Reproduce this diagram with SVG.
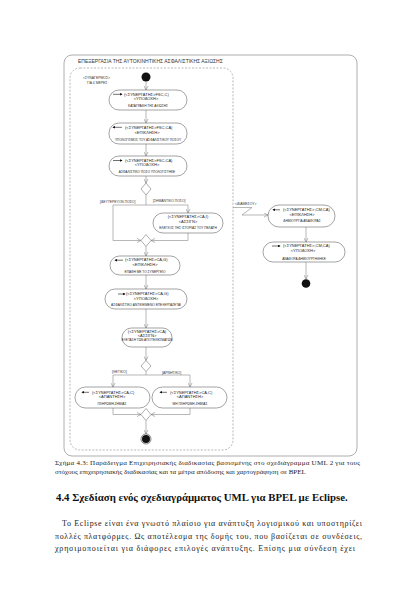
<svg xmlns="http://www.w3.org/2000/svg" width="420" height="594" viewBox="0 0 420 594">
<defs>
<marker id="arr" viewBox="0 0 10 10" refX="9" refY="5" markerWidth="5" markerHeight="5" orient="auto" markerUnits="userSpaceOnUse">
<path d="M1,1 L9,5 L1,9" fill="none" stroke="#888" stroke-width="1.2"/>
</marker>
<marker id="ico" viewBox="0 0 10 10" refX="8" refY="5" markerWidth="3" markerHeight="3" orient="auto" markerUnits="userSpaceOnUse">
<path d="M0,0 L10,5 L0,10 Z" fill="#111"/>
</marker>
</defs>
<style>
.frame{fill:none;stroke:#9a9a9a;stroke-width:0.8}
.lane{fill:none;stroke:#9a9a9a;stroke-width:0.7;stroke-dasharray:2,1.5}
.node{fill:#fff;stroke:#666;stroke-width:0.6}
.dia{fill:#fff;stroke:#777;stroke-width:0.6}
.edge{fill:none;stroke:#999;stroke-width:0.7}
.ic{fill:none;stroke:#111;stroke-width:0.6}
.t1{font-family:"Liberation Sans",Arial,sans-serif;font-size:4px;fill:#222}
.t2{font-family:"Liberation Sans",Arial,sans-serif;font-size:3.2px;fill:#222}
.lbl{font-family:"Liberation Sans",Arial,sans-serif;font-size:3.4px;fill:#333}
.title{font-family:"Liberation Sans",Arial,sans-serif;font-size:5px;fill:#333}
.cap{font-family:"Liberation Serif","Times New Roman",serif;font-size:7px;fill:#222}
.h{font-family:"Liberation Serif","Times New Roman",serif;font-size:10.8px;font-weight:bold;fill:#111}
.body{font-family:"Liberation Serif","Times New Roman",serif;font-size:8px;fill:#222}
</style>
<rect width="420" height="594" fill="#fff"/>
<g id="frame">
<rect class="frame" x="64" y="55" width="293" height="401" rx="8"/>
<text class="title" x="78" y="63">ΕΠΕΞΕΡΓΑΣΙΑ ΤΗΣ ΑΥΤΟΚΙΝΗΤΙΚΗΣ ΑΣΦΑΛΙΣΤΙΚΗΣ ΑΞΙΩΣΗΣ</text>
<rect class="lane" x="70" y="68" width="163" height="382" rx="10"/>
<text class="lbl" x="83" y="79">&lt;ΣΥΝΑΓΕΡΜΟΣ&gt;</text>
<text class="lbl" x="87" y="84">ΓΙΑ 4 ΜΕΡΕΣ</text>
</g>
<g id="connectors">
<line class="edge" x1="146" y1="81.5" x2="146" y2="90" marker-end="url(#arr)"/>
<line class="edge" x1="146" y1="110" x2="146" y2="123" marker-end="url(#arr)"/>
<line class="edge" x1="146" y1="144" x2="146" y2="156" marker-end="url(#arr)"/>
<line class="edge" x1="146" y1="176" x2="146" y2="183" marker-end="url(#arr)"/>
<polyline class="edge" points="146,195 146,205"/>
<polyline class="edge" points="113,205 188,205"/>
<polyline class="edge" points="113,205 113,240.5 141,240.5" marker-end="url(#arr)"/>
<line class="edge" x1="188" y1="205" x2="188" y2="213" marker-end="url(#arr)"/>
<polyline class="edge" points="188,233 188,240.5 151,240.5" marker-end="url(#arr)"/>
<line class="edge" x1="146" y1="246.5" x2="146" y2="256" marker-end="url(#arr)"/>
<line class="edge" x1="146" y1="275" x2="146" y2="289" marker-end="url(#arr)"/>
<line class="edge" x1="146" y1="309" x2="146" y2="328" marker-end="url(#arr)"/>
<line class="edge" x1="146" y1="347" x2="146" y2="360.5" marker-end="url(#arr)"/>
<polyline class="edge" points="146,371.5 146,375"/>
<polyline class="edge" points="113,375 190,375"/>
<line class="edge" x1="113" y1="375" x2="113" y2="387" marker-end="url(#arr)"/>
<line class="edge" x1="190" y1="375" x2="190" y2="387" marker-end="url(#arr)"/>
<polyline class="edge" points="113,408 113,414.5 141,414.5" marker-end="url(#arr)"/>
<polyline class="edge" points="190,408 190,414.5 151,414.5" marker-end="url(#arr)"/>
<line class="edge" x1="146" y1="420.5" x2="146" y2="434" marker-end="url(#arr)"/>
<polyline class="edge" points="233,207.5 252,207.5 242,215 268,215" marker-end="url(#arr)"/>
<line class="edge" x1="306" y1="227" x2="306" y2="242" marker-end="url(#arr)"/>
<line class="edge" x1="306" y1="262" x2="306" y2="279" marker-end="url(#arr)"/>
<text class="lbl" x="100" y="203">[ΔΕΥΤΕΡΕΥΟΝ ΠΟΣΟ]</text>
<text class="lbl" x="153" y="202">[ΣΗΜΑΝΤΙΚΟ ΠΟΣΟ]</text>
<text class="lbl" x="112" y="373">[ΘΕΤΙΚΟ]</text>
<text class="lbl" x="162" y="373.5">[ΑΡΝΗΤΙΚΟ]</text>
<text class="lbl" x="235" y="204.5">&lt;ΔΙΑΜΕΣΟΥ&gt;</text>
</g>
<g id="start"><circle cx="146" cy="77" r="4.5" fill="#111"/></g>
<g id="n1">
<rect class="node" x="109" y="90" width="78" height="20" rx="10"/>
<line class="ic" x1="113" y1="94.3" x2="122" y2="94.3" marker-end="url(#ico)"/>
<text class="t1" x="124" y="95.5">(&lt;ΣΥΝΕΡΓΑΤΗΣ&gt;FSC,C)</text>
<text class="t1" x="146" y="99.7" text-anchor="middle">&lt;ΥΠΟΔΟΧΗ&gt;</text>
<text class="t2" x="148" y="107" text-anchor="middle">ΚΑΤΑΓΡΑΦΗ ΤΗΣ ΑΞΙΩΣΗΣ</text>
</g>
<g id="n2">
<rect class="node" x="109" y="123" width="78" height="21" rx="10"/>
<line class="ic" x1="122" y1="127.3" x2="113" y2="127.3" marker-end="url(#ico)"/>
<text class="t1" x="125" y="128.5">(&lt;ΣΥΝΕΡΓΑΤΗΣ&gt;FSC,CA)</text>
<text class="t1" x="147" y="133.5" text-anchor="middle">&lt;ΕΠΙΚΛΗΣΗ&gt;</text>
<text class="t2" x="148" y="141" text-anchor="middle">ΥΠΟΛΟΓΙΣΜΟΣ ΤΟΥ ΑΣΦΑΛΙΣΤΙΚΟΥ ΠΟΣΟΥ</text>
</g>
<g id="n3">
<rect class="node" x="109" y="156" width="78" height="20" rx="10"/>
<line class="ic" x1="113" y1="160.5" x2="122" y2="160.5" marker-end="url(#ico)"/>
<text class="t1" x="125" y="161.7">(&lt;ΣΥΝΕΡΓΑΤΗΣ&gt;FSC,CA)</text>
<text class="t1" x="147" y="166" text-anchor="middle">&lt;ΥΠΟΔΟΧΗ&gt;</text>
<text class="t2" x="147" y="173" text-anchor="middle">ΑΣΦΑΛΙΣΤΙΚΟ ΠΟΣΟ ΥΠΟΛΟΓΙΣΤΗΚΕ</text>
</g>
<g id="d1"><polygon class="dia" points="146,183 151,189 146,195 141,189"/></g>
<g id="n4">
<rect class="node" x="153" y="213" width="70" height="20" rx="10"/>
<text class="t1" x="188" y="218" text-anchor="middle">(&lt;ΣΥΝΕΡΓΑΤΗΣ&gt;CA,I)</text>
<text class="t1" x="188" y="222.5" text-anchor="middle">&lt;ΑΣΣΙΓΝ&gt;</text>
<text class="t2" x="188" y="228.5" text-anchor="middle">ΕΛΕΓΧΟΣ ΤΗΣ ΙΣΤΟΡΙΑΣ ΤΟΥ ΠΕΛΑΤΗ</text>
</g>
<g id="d2"><polygon class="dia" points="146,234.5 151,240.5 146,246.5 141,240.5"/></g>
<g id="n5">
<rect class="node" x="110" y="256" width="70" height="19" rx="9.5"/>
<line class="ic" x1="123" y1="260.2" x2="115" y2="260.2" marker-end="url(#ico)"/>
<text class="t1" x="125" y="261.4">(&lt;ΣΥΝΕΡΓΑΤΗΣ&gt;CA,G)</text>
<text class="t1" x="145" y="265.5" text-anchor="middle">&lt;ΕΠΙΚΛΗΣΗ&gt;</text>
<text class="t2" x="145" y="272.5" text-anchor="middle">ΕΠΑΦΗ ΜΕ ΤΟ ΣΥΝΕΡΓΕΙΟ</text>
</g>
<g id="n6">
<rect class="node" x="105" y="289" width="82" height="20" rx="10"/>
<line class="ic" x1="118" y1="294" x2="125" y2="294" marker-end="url(#ico)"/>
<text class="t1" x="126" y="295.2">(&lt;ΣΥΝΕΡΓΑΤΗΣ&gt;CA,G)</text>
<text class="t1" x="146" y="299.5" text-anchor="middle">&lt;ΥΠΟΔΟΧΗ&gt;</text>
<text class="t2" x="146" y="306" text-anchor="middle">ΑΣΦΑΛΙΣΤΙΚΟ ΑΝΤΙΚΕΙΜΕΝΟ ΕΠΕΞΕΡΓΑΖΕΤΑΙ</text>
</g>
<g id="n7">
<rect class="node" x="122" y="328" width="50" height="19" rx="9.5"/>
<text class="t1" x="147" y="332.5" text-anchor="middle">(&lt;ΣΥΝΕΡΓΑΤΗΣ&gt;CA)</text>
<text class="t1" x="147" y="336.5" text-anchor="middle">&lt;ΑΣΣΙΓΝ&gt;</text>
<text class="t2" x="147" y="341" text-anchor="middle">ΕΞΕΤΑΣΗ ΤΩΝ ΑΠΟΤΕΛΕΣΜΑΤΩΝ</text>
</g>
<g id="d3"><polygon class="dia" points="146,360.5 151,366 146,371.5 141,366"/></g>
<g id="n8">
<rect class="node" x="75" y="387" width="75" height="21" rx="10.5"/>
<line class="ic" x1="89" y1="392.3" x2="82" y2="392.3" marker-end="url(#ico)"/>
<text class="t1" x="92" y="393.5">(&lt;ΣΥΝΕΡΓΑΤΗΣ&gt;CA,C)</text>
<text class="t1" x="112" y="397.8" text-anchor="middle">&lt;ΑΠΑΝΤΗΣΗ&gt;</text>
<text class="t2" x="112" y="404.5" text-anchor="middle">ΠΛΗΡΩΜΗ ΖΗΜΙΑΣ</text>
</g>
<g id="n9">
<rect class="node" x="152" y="387" width="75" height="21" rx="10.5"/>
<line class="ic" x1="167" y1="392.3" x2="160" y2="392.3" marker-end="url(#ico)"/>
<text class="t1" x="170" y="393.5">(&lt;ΣΥΝΕΡΓΑΤΗΣ&gt;CA,C)</text>
<text class="t1" x="190" y="397.8" text-anchor="middle">&lt;ΑΠΑΝΤΗΣΗ&gt;</text>
<text class="t2" x="190" y="404.5" text-anchor="middle">ΜΗ ΠΛΗΡΩΜΗ ΖΗΜΙΑΣ</text>
</g>
<g id="d4"><polygon class="dia" points="146,408.5 151,414.5 146,420.5 141,414.5"/></g>
<g id="end1">
<circle cx="146" cy="439" r="5" fill="#fff" stroke="#333" stroke-width="0.6"/>
<circle cx="146" cy="439" r="4" fill="#111"/>
</g>
<g id="n10">
<rect class="node" x="268" y="205" width="67" height="22" rx="11"/>
<line class="ic" x1="280" y1="209.8" x2="273" y2="209.8" marker-end="url(#ico)"/>
<text class="t1" x="283" y="211">(&lt;ΣΥΝΕΡΓΑΤΗΣ&gt;,CM,CA)</text>
<text class="t1" x="302" y="215.5" text-anchor="middle">&lt;ΕΠΙΚΛΗΣΗ&gt;</text>
<text class="t2" x="302" y="222" text-anchor="middle">ΔΗΜΙΟΥΡΓΙΑ ΑΝΑΦΟΡΑΣ</text>
</g>
<g id="n11">
<rect class="node" x="263" y="242" width="82" height="20" rx="10"/>
<line class="ic" x1="272" y1="246" x2="280" y2="246" marker-end="url(#ico)"/>
<text class="t1" x="283" y="247.2">(&lt;ΣΥΝΕΡΓΑΤΗΣ&gt;,CM,CA)</text>
<text class="t1" x="303" y="252" text-anchor="middle">&lt;ΥΠΟΔΟΧΗ&gt;</text>
<text class="t2" x="304" y="259.5" text-anchor="middle">ΑΝΑΦΟΡΑ ΔΗΜΙΟΥΡΓΗΘΗΚΕ</text>
</g>
<g id="end2"><circle cx="306" cy="283.5" r="4.3" fill="#111"/></g>
<g id="page-text">
<text class="cap" x="55" y="465" textLength="305" lengthAdjust="spacing">Σχήμα 4.3: Παράδειγμα Επιχειρησιακής διαδικασίας βασισμένης στο σχεδιάγραμμα UML 2 για τους</text>
<text class="cap" x="55" y="473.5">στόχους επιχειρησιακής διαδικασίας και τα μέτρα απόδοσης και χαρτογράφηση σε BPEL</text>
<text class="h" x="56" y="501">4.4 Σχεδίαση  ενός σχεδιαγράμματος UML για BPEL με Eclipse.</text>
<text class="body" x="62" y="526" textLength="300" lengthAdjust="spacing">Το Eclipse είναι ένα γνωστό πλαίσιο για ανάπτυξη λογισμικού και υποστηρίζει</text>
<text class="body" x="55" y="538.5" textLength="307" lengthAdjust="spacing">πολλές πλατφόρμες. Ως αποτέλεσμα της δομής του, που βασίζεται σε συνδέσεις,</text>
<text class="body" x="55" y="551" textLength="300" lengthAdjust="spacing">χρησιμοποιείται για διάφορες επιλογές ανάπτυξης. Επίσης μια σύνδεση έχει</text>
</g>
</svg>
